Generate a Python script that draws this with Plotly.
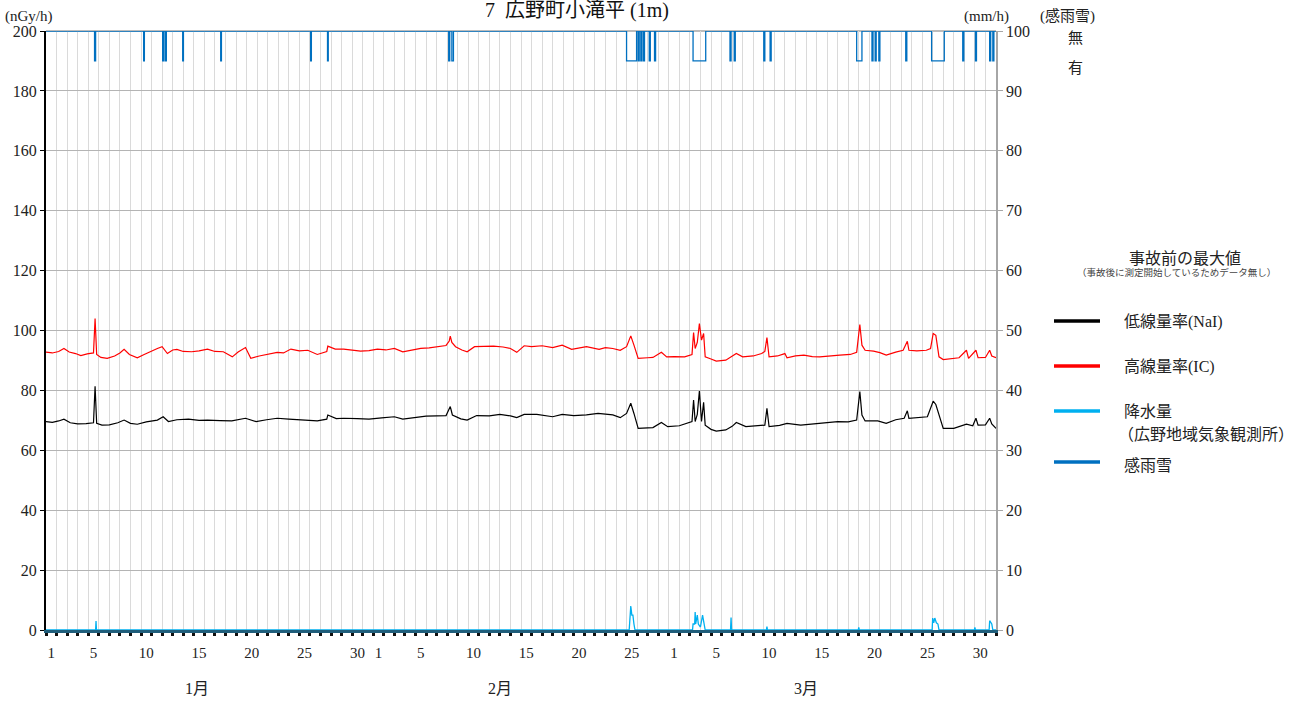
import plotly.graph_objects as go

# ---------------- data ----------------
# time axis: days since Jan 1 00:00 (Jan 31 d, Feb 28 d, Mar 31 d)
ic_t = [0.0, 0.6, 1.2, 1.7, 2.2, 2.8, 3.3, 3.9, 4.5, 4.65, 4.8, 5.2, 5.8, 6.5, 7.0, 7.4, 7.9, 8.65, 9.3, 10.0,
        10.55, 11.0, 11.5, 12.0, 12.4, 13.0, 13.8, 14.5, 15.3, 16.0, 16.8, 17.65, 18.2, 18.9, 19.4, 20.2, 21.0,
        21.9, 22.5, 23.2, 24.0, 24.8, 25.7, 26.6, 26.7, 27.4, 28.2, 29.0, 29.8, 30.6, 31.4, 32.2, 33.0, 33.8,
        34.6, 35.5, 36.3, 37.1, 37.9, 38.2, 38.3, 38.45, 38.8, 39.4, 39.9, 40.6, 41.5, 42.4, 43.3, 44.0, 44.6,
        45.3, 46.0, 47.0, 48.0, 48.9, 49.8, 50.5, 51.2, 52.4, 53.0, 53.7, 54.4, 55.0, 55.4, 55.7, 56.1, 57.0,
        57.5, 58.3, 58.8, 59.5, 60.5, 61.2, 61.35, 61.5, 61.7, 61.9, 62.1, 62.3, 62.45, 63.0, 63.5, 64.4, 65.0,
        65.4, 66.0, 67.0, 67.8, 68.1, 68.3, 68.5, 69.3, 70.0, 70.2, 71.0, 71.8, 72.6, 73.3, 74.2, 75.2, 76.2,
        76.8, 77.1, 77.3, 77.6, 78.4, 79.0, 79.6, 80.5, 81.2, 81.6, 81.75, 82.5, 83.4, 83.8, 84.05, 84.3, 84.6,
        85.0, 85.8, 86.5, 87.2, 87.4, 88.1, 88.3, 89.0, 89.4, 89.6, 90.0]
ic_v = [92.8, 92.5, 93.0, 94.0, 92.8, 92.3, 91.6, 92.2, 92.5, 104.0, 92.0, 91.0, 90.7, 91.5, 92.5, 93.7, 92.0, 90.9, 92.0, 93.2,
        94.0, 94.6, 92.3, 93.5, 93.7, 93.0, 92.9, 93.2, 93.8, 93.0, 92.9, 91.2, 92.8, 94.3, 90.7, 91.5, 92.0,
        92.7, 92.5, 93.8, 93.2, 93.4, 92.0, 93.0, 94.8, 93.8, 93.8, 93.5, 93.1, 93.3, 93.8, 93.5, 94.0, 92.9,
        93.5, 94.0, 94.2, 94.6, 95.0, 96.5, 98.1, 96.0, 94.6, 93.5, 92.9, 94.6, 94.6, 94.8, 94.5, 94.0, 92.7,
        94.9, 94.6, 94.9, 94.3, 95.1, 93.7, 94.2, 94.6, 93.7, 94.3, 94.0, 93.4, 94.6, 98.2, 95.1, 90.7, 90.9,
        91.0, 92.7, 91.2, 91.3, 91.2, 92.0, 99.3, 94.0, 96.0, 102.3, 96.8, 99.0, 91.2, 90.5, 89.8, 90.1, 91.5,
        92.3, 91.2, 91.5, 92.3, 93.0, 97.6, 91.2, 91.5, 92.3, 90.9, 91.5, 91.8, 91.3, 91.2, 91.6, 91.8, 92.0,
        92.7, 102.0, 95.1, 93.4, 93.1, 92.6, 91.8, 92.8, 93.4, 96.4, 93.4, 93.2, 93.4, 94.0, 99.0, 98.4, 91.2,
        90.3, 90.5, 90.9, 93.4, 90.7, 93.4, 90.9, 91.0, 93.4, 91.5, 90.9]

nai_t = [0.0, 0.6, 1.2, 1.7, 2.3, 3.0, 3.8, 4.5, 4.65, 4.8, 5.3, 6.0, 6.8, 7.4, 8.0, 8.65, 9.5, 10.55, 11.1, 11.6,
         12.4, 13.5, 14.5, 15.3, 16.5, 17.6, 18.9, 19.9, 20.9, 21.9, 23.0, 24.0, 25.7, 26.6, 26.7, 27.5, 28.2,
         29.5, 30.6, 31.8, 33.0, 33.8, 35.0, 36.0, 37.0, 37.9, 38.3, 38.5, 39.3, 39.9, 40.8, 42.0, 43.0, 44.0,
         44.6, 45.3, 46.5, 48.0, 48.9, 50.0, 51.2, 52.3, 53.7, 54.4, 55.0, 55.4, 55.7, 56.1, 57.0, 57.5, 58.3,
         58.9, 60.0, 60.7, 61.2, 61.35, 61.5, 61.7, 61.9, 62.1, 62.3, 62.45, 63.0, 63.5, 64.4, 65.0, 65.4, 66.3,
         67.3, 68.1, 68.3, 68.5, 69.5, 70.2, 71.5, 73.3, 75.0, 76.0, 76.8, 77.1, 77.3, 77.6, 78.8, 79.6, 80.5,
         81.3, 81.6, 81.75, 82.8, 83.5, 84.05, 84.3, 85.0, 86.0, 87.2, 87.8, 88.1, 88.3, 89.0, 89.4, 89.6, 90.0]
nai_v = [69.6, 69.3, 69.8, 70.4, 69.2, 68.8, 68.9, 69.2, 81.4, 69.0, 68.4, 68.5, 69.2, 70.1, 69.0, 68.7, 69.5, 70.1, 71.2, 69.6,
         70.2, 70.4, 70.0, 70.1, 69.9, 69.8, 70.7, 69.6, 70.2, 70.7, 70.4, 70.2, 69.8, 70.4, 71.8, 70.6, 70.7,
         70.6, 70.4, 70.8, 71.2, 70.4, 71.0, 71.4, 71.5, 71.6, 74.6, 71.8, 70.5, 70.1, 71.6, 71.5, 72.0, 71.5,
         70.9, 72.0, 72.0, 71.2, 72.0, 71.6, 71.8, 72.3, 71.8, 70.9, 72.3, 75.7, 72.3, 67.3, 67.5, 67.6, 69.3,
         67.9, 68.2, 69.0, 69.6, 76.8, 69.6, 72.0, 79.8, 69.6, 76.0, 68.4, 67.0, 66.4, 66.8, 68.0, 69.3, 67.9,
         68.2, 68.4, 74.0, 67.9, 68.3, 69.0, 68.4, 69.0, 69.6, 69.5, 70.1, 79.6, 71.8, 69.8, 69.8, 69.0, 70.2,
         70.7, 73.2, 70.7, 71.0, 71.2, 76.4, 75.3, 67.3, 67.3, 68.7, 68.2, 70.7, 68.4, 68.5, 70.7, 68.8, 67.3]

precip_t = [0.0, 4.70, 4.74, 4.78, 55.25, 55.3, 55.4, 55.5, 55.6, 55.7, 55.8, 61.25, 61.3, 61.45, 61.5, 61.55,
            61.7, 61.8, 62.0, 62.2, 62.35, 62.45, 64.85, 64.9, 64.95, 68.25, 68.3, 68.35, 76.95, 77.0, 77.05,
            83.95, 84.0, 84.1, 84.2, 84.35, 84.5, 84.6, 87.95, 88.0, 88.05, 89.35, 89.4, 89.6, 89.7, 90.0]
precip_v = [0, 0, 1.5, 0, 0, 2.5, 4.0, 2.5, 2.5, 1.0, 0, 0, 1.0, 1.0, 3.0, 1.0,
            2.5, 1.0, 0.5, 2.5, 1.0, 0, 0, 2.1, 0, 0, 0.55, 0, 0, 0.45, 0,
            0, 2.0, 1.2, 2.0, 1.2, 1.0, 0, 0, 0.45, 0, 0, 1.55, 1.0, 0, 0]

# rain/snow sensing periods ("有"), start and end in days
sense_on = [4.6, 9.25, 11.05, 11.3, 12.95, 16.55, 25.07, 26.67, 38.15, 38.45, 55.0, 56.1, 56.35, 56.6, 57.15,
            57.65, 61.3, 64.8, 65.2, 68.0, 68.6, 76.8, 78.25, 78.55, 78.9, 81.45, 83.9, 86.85, 88.05, 89.4, 89.7]
sense_off = [4.7, 9.32, 11.15, 11.4, 13.02, 16.62, 25.14, 26.74, 38.25, 38.6, 55.95, 56.2, 56.45, 56.7, 57.25,
             57.75, 62.5, 64.9, 65.3, 68.1, 68.7, 77.3, 78.35, 78.65, 79.0, 81.55, 85.1, 86.95, 88.15, 89.5, 89.8]
SENSE_NO, SENSE_YES = 100, 95   # plotted on the right (mm/h) scale

month_names = ["1月", "2月", "3月"]
month_days = [31, 28, 31]
month_label_days = [[1, 5, 10, 15, 20, 25, 30], [1, 5, 10, 15, 20, 25], [1, 5, 10, 15, 20, 25, 30]]

legend_labels = ["低線量率(NaI)", "高線量率(IC)", "降水量", "感雨雪"]

# ---------------- build ----------------
sense_t = [0.0]
sense_v = [SENSE_NO]
for a, b in zip(sense_on, sense_off):
    sense_t += [a, b]
    sense_v += [SENSE_YES, SENSE_NO]
sense_t.append(90.0)
sense_v.append(SENSE_NO)

tick_pos, tick_txt = [], []
offset = 0
for nd, labs in zip(month_days, month_label_days):
    for d in labs:
        tick_pos.append(offset + d - 0.5)
        tick_txt.append(str(d))
    offset += nd

FONT = "Liberation Serif, Noto Sans CJK JP, serif"
W, H = 1312, 702
L, R, T, B = 46, 996, 31, 630   # plot area in window pixels


def px(x):
    return (x - L) / (R - L)


def py(y):
    return (B - y) / (B - T)


fig = go.Figure()
fig.add_trace(go.Scatter(x=precip_t, y=precip_v, yaxis="y2", mode="lines",
                         line=dict(color="#00b0f0", width=1.3), showlegend=False, hoverinfo="skip"))
fig.add_trace(go.Scatter(x=sense_t, y=sense_v, yaxis="y2", mode="lines", line_shape="hv",
                         line=dict(color="#0070c0", width=1.3), showlegend=False, hoverinfo="skip"))
fig.add_trace(go.Scatter(x=ic_t, y=ic_v, mode="lines",
                         line=dict(color="#ff0000", width=1.2), showlegend=False))
fig.add_trace(go.Scatter(x=nai_t, y=nai_v, mode="lines",
                         line=dict(color="#000000", width=1.2), showlegend=False))
# invisible trace to activate xaxis2 (labels)
fig.add_trace(go.Scatter(x=[0, 90], y=[0, 0], xaxis="x2", mode="lines",
                         line=dict(width=0), showlegend=False, hoverinfo="skip"))

fig.update_layout(
    width=W, height=H,
    margin=dict(l=L, r=W - R, t=T, b=H - B, autoexpand=False),
    paper_bgcolor="white", plot_bgcolor="white",
    font=dict(family=FONT, size=16, color="#222"),
    xaxis=dict(range=[0, 90], tickmode="linear", tick0=0, dtick=1, showticklabels=False,
               ticks="outside", ticklen=3, tickwidth=3, tickcolor="#111",
               showgrid=True, gridcolor="#dadada", gridwidth=1, zeroline=False,
               showline=True, linecolor="#1f5d7a", linewidth=2.5),
    xaxis2=dict(range=[0, 90], overlaying="x", anchor="y", side="bottom",
                tickmode="array", tickvals=tick_pos, ticktext=tick_txt,
                ticks="outside", ticklen=9, tickcolor="rgba(0,0,0,0)",
                showgrid=False, zeroline=False, showline=False,
                tickfont=dict(family=FONT, size=15, color="#222")),
    yaxis=dict(range=[0, 200], tickmode="linear", tick0=0, dtick=20,
               showgrid=True, gridcolor="#b4b4b4", gridwidth=1.2, zeroline=False,
               showline=True, linecolor="#000", linewidth=2,
               ticks="outside", ticklen=4, tickcolor="#000",
               tickfont=dict(family=FONT, size=16, color="#222")),
    yaxis2=dict(range=[0, 100], overlaying="y", side="right", tickmode="linear", tick0=0, dtick=10,
                showgrid=False, zeroline=False, showline=True, linecolor="#a6a6a6", linewidth=1.5,
                ticks="outside", ticklen=5, tickcolor="#a6a6a6",
                tickfont=dict(family=FONT, size=16, color="#222")),
)

shapes = [dict(type="line", xref="paper", yref="paper", x0=0, x1=1, y0=1, y1=1,
               line=dict(color="#a6a6a6", width=1.5), layer="below")]
legend_y = [321, 366, 411, 462]
legend_colors = ["#000000", "#ff0000", "#00b0f0", "#0070c0"]
for yy, c in zip(legend_y, legend_colors):
    shapes.append(dict(type="line", xref="paper", yref="paper", x0=px(1054), x1=px(1100),
                       y0=py(yy), y1=py(yy), line=dict(color=c, width=3.5)))
fig.update_layout(shapes=shapes)

ann = []


def add_text(text, x, y, size=16, xanchor="left", color="#222"):
    ann.append(dict(text=text, x=px(x), y=py(y), xref="paper", yref="paper", showarrow=False,
                    xanchor=xanchor, yanchor="middle", font=dict(family=FONT, size=size, color=color)))


add_text("7  広野町小滝平 (1m)", 577, 11, size=20, xanchor="center", color="#111")
add_text("(nGy/h)", 3, 16, size=15)
add_text("(mm/h)", 1011, 16, size=15, xanchor="right")
add_text("(感雨雪)", 1038, 16, size=15)
add_text("無", 1075, 38, size=15, xanchor="center")
add_text("有", 1075, 68, size=15, xanchor="center")
add_text("事故前の最大値", 1185, 258, size=16, xanchor="center")
add_text("（事故後に測定開始しているためデータ無し）", 1176, 272, size=9.5, xanchor="center", color="#444")
add_text(legend_labels[0], 1122, 322)
add_text(legend_labels[1], 1122, 367)
add_text(legend_labels[2], 1122, 411)
add_text("（広野地域気象観測所）", 1116, 434)
add_text(legend_labels[3], 1122, 465)
for name, xx in zip(month_names, [197, 500, 806]):
    add_text(name, xx, 688, size=16, xanchor="center")
fig.update_layout(annotations=ann)

fig.write_html("out.html", config={"displayModeBar": False},
               post_script="document.body.style.margin='0';document.body.style.overflow='hidden';")
